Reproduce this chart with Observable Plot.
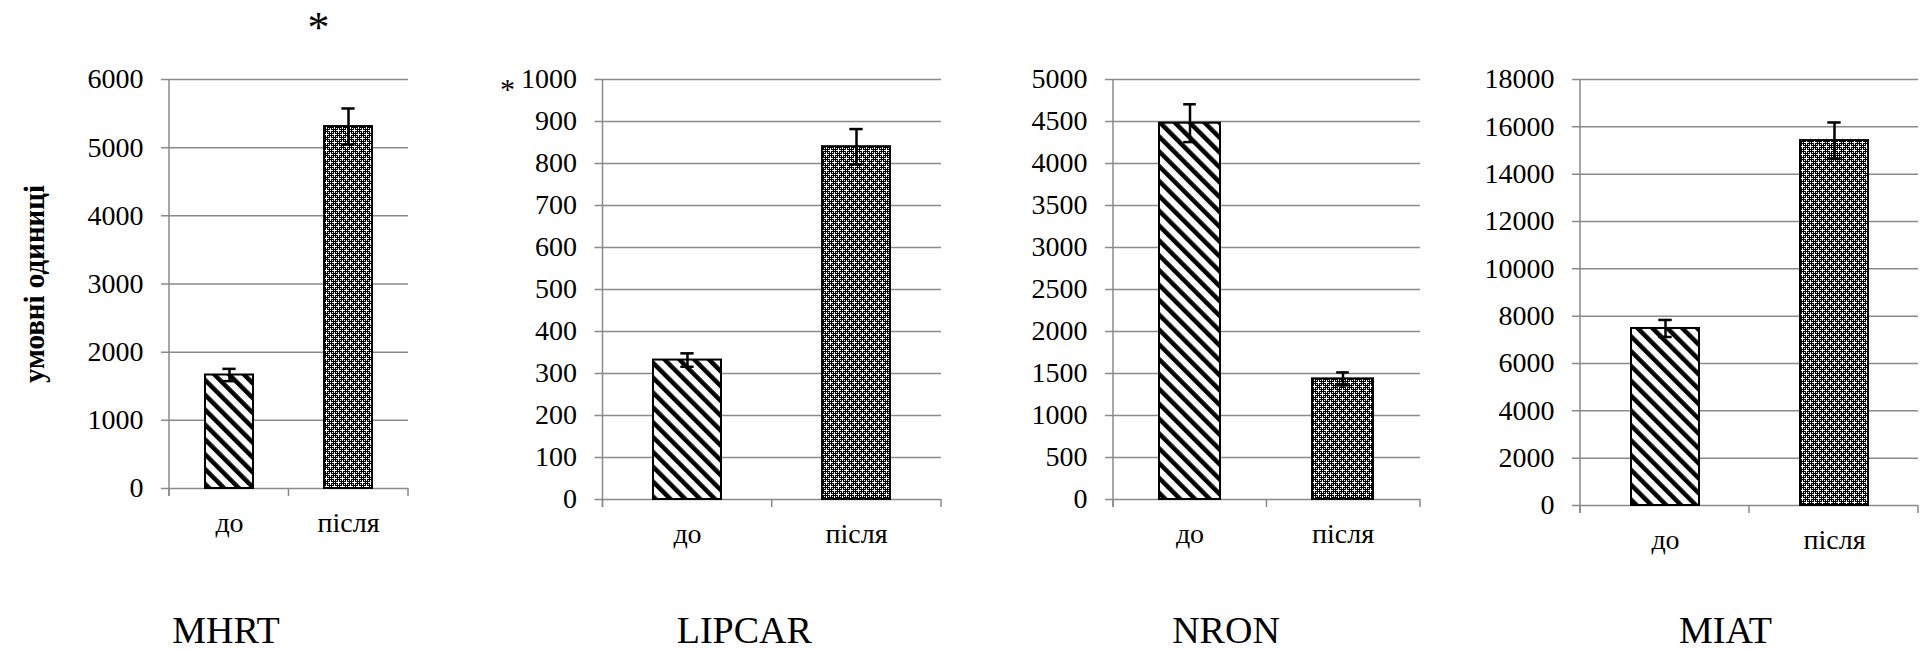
<!DOCTYPE html>
<html>
<head>
<meta charset="utf-8">
<script src="https://cdn.jsdelivr.net/npm/d3@7"></script>
<script src="https://cdn.jsdelivr.net/npm/@observablehq/plot@0.6"></script>
<style>
  html, body { margin: 0; padding: 0; background: white; }
  #charts { display: flex; flex-direction: row; width: 1928px; height: 649px; }
  #charts svg { flex: none; }
  #charts svg, #charts svg text { font-family: 'Liberation Serif', 'Times New Roman', serif !important; }
</style>
</head>
<body>
<svg width="0" height="0" style="position:absolute">
  <defs>
    <pattern id="stripes" patternUnits="userSpaceOnUse" width="10.5" height="10.5" patternTransform="rotate(-45)">
      <rect width="10.5" height="10.5" fill="white"/>
      <rect x="0" y="0" width="4.5" height="10.5" fill="black"/>
    </pattern>
    <pattern id="checker" patternUnits="userSpaceOnUse" width="2" height="2">
      <rect width="2" height="2" fill="black"/>
      <rect x="0" y="0" width="1" height="1" fill="white"/>
    </pattern>
    <pattern id="dots" patternUnits="userSpaceOnUse" width="8" height="8">
      <rect width="8" height="8" fill="url(#checker)"/>
      <rect x="1" y="2" width="3" height="1" fill="white"/>
      <rect x="2" y="1" width="1" height="3" fill="white"/>
      <rect x="5" y="6" width="3" height="1" fill="white"/>
      <rect x="6" y="5" width="1" height="3" fill="white"/>
    </pattern>
  </defs>
</svg>
<div id="charts"></div>
<script>
// ---- data ----
const categories = ["до", "після"];
const genes = ["MHRT", "LIPCAR", "NRON", "MIAT"];
const meanBefore = [1665, 332, 4480, 7480];
const meanAfter = [5310, 840, 1436, 15420];
const errBefore = [90, 16, 225, 360];
const errAfter = [265, 42, 77, 765];
const yMax = [6000, 1000, 5000, 18000];
const ticksMHRT = [0, 1000, 2000, 3000, 4000, 5000, 6000];
const ticksLIPCAR = [0, 100, 200, 300, 400, 500, 600, 700, 800, 900, 1000];
const ticksNRON = [0, 500, 1000, 1500, 2000, 2500, 3000, 3500, 4000, 4500, 5000];
const ticksMIAT = [0, 2000, 4000, 6000, 8000, 10000, 12000, 14000, 16000, 18000];
const yTicks = [ticksMHRT, ticksLIPCAR, ticksNRON, ticksMIAT];
const yTitle = "умовні одиниці";

// ---- layout (styles only) ----
const layout = [
  {width: 480, ml: 169, mr: 72, mb: 161, tdx: -63},
  {width: 480, ml: 122.5, mr: 19, mb: 150, tdx: -28},
  {width: 480, ml: 153, mr: 20, mb: 150, tdx: -41},
  {width: 488, ml: 140, mr: 10, mb: 144, tdx: -24}
];
const FONT = "'Liberation Serif', 'Times New Roman', serif";
const GRID = "#8a8a8a";

function axisFrame(index, scales, values, dim) {
  const g = d3.create("svg:g").attr("stroke", GRID).attr("stroke-width", 1.5);
  const x0 = dim.marginLeft, x1 = dim.width - dim.marginRight;
  const y0 = dim.marginTop, yb = dim.height - dim.marginBottom;
  g.append("line").attr("x1", x0).attr("x2", x0).attr("y1", y0).attr("y2", yb + 8);
  [x0, (x0 + x1) / 2, x1].forEach(x => {
    g.append("line").attr("x1", x).attr("x2", x).attr("y1", yb).attr("y2", yb + 8);
  });
  return g.node();
}

function panel(i) {
  const data = categories.map((c, k) => ({
    cat: c,
    v: k ? meanAfter[i] : meanBefore[i],
    e: k ? errAfter[i] : errBefore[i]
  }));
  const L = layout[i];
  const innerW = L.width - L.ml - L.mr;
  const bw = innerW / 2 * 0.4;
  const capInset = (bw - 13) / 2;
  const bottom = 649 - L.mb;
  const marks = [
    Plot.ruleY(yTicks[i], {stroke: GRID, strokeWidth: 1.5, insetLeft: -8}),
    axisFrame,
    Plot.axisY(yTicks[i], {tickSize: 0, tickPadding: 26, fontSize: 28, tickFormat: "d", label: null}),
    Plot.axisX({tickSize: 0, tickPadding: 24, fontSize: 28, label: null}),
    Plot.barY(data.filter(d => d.cat === categories[0]), {x: "cat", y: "v", fill: "url(#stripes)", stroke: "black", strokeWidth: 2}),
    Plot.barY(data.filter(d => d.cat === categories[1]), {x: "cat", y: "v", fill: "url(#dots)", stroke: "black", strokeWidth: 2}),
    Plot.ruleX(data, {x: "cat", y1: d => d.v - d.e, y2: d => d.v + d.e, stroke: "black", strokeWidth: 2.5}),
    Plot.tickY(data, {x: "cat", y: d => d.v + d.e, stroke: "black", strokeWidth: 2.5, insetLeft: capInset, insetRight: capInset}),
    Plot.tickY(data, {x: "cat", y: d => d.v - d.e, stroke: "black", strokeWidth: 2.5, insetLeft: capInset, insetRight: capInset}),
    Plot.text([genes[i]], {frameAnchor: "bottom", dx: L.tdx, dy: 630 - bottom, fontSize: 38, fill: "black", textAnchor: "middle", lineAnchor: "middle"})
  ];
  if (i === 0) {
    marks.push(Plot.text([yTitle], {frameAnchor: "left", dx: -135, rotate: -90, fontSize: 29, fontWeight: "bold", fill: "black", textAnchor: "middle", lineAnchor: "middle"}));
    marks.push(Plot.text(["*"], {frameAnchor: "top", dx: 29.5, dy: -52, fontSize: 44, fill: "black", textAnchor: "middle", lineAnchor: "middle"}));
  }
  if (i === 1) {
    marks.push(Plot.text(["*"], {frameAnchor: "top-left", dx: -95.5, dy: 10, fontSize: 30, fill: "black", textAnchor: "middle", lineAnchor: "middle"}));
  }
  return Plot.plot({
    width: L.width,
    height: 649,
    marginLeft: L.ml,
    marginRight: L.mr,
    marginTop: 79,
    marginBottom: L.mb,
    style: {fontFamily: FONT, fontSize: "28px", background: "transparent", overflow: "visible", color: "black"},
    x: {domain: categories, paddingInner: 0.6, paddingOuter: 0.3, align: 0.5, axis: null},
    y: {domain: [0, yMax[i]], axis: null},
    marks
  });
}

const container = document.getElementById("charts");
genes.forEach((g, i) => container.appendChild(panel(i)));
</script>
</body>
</html>
